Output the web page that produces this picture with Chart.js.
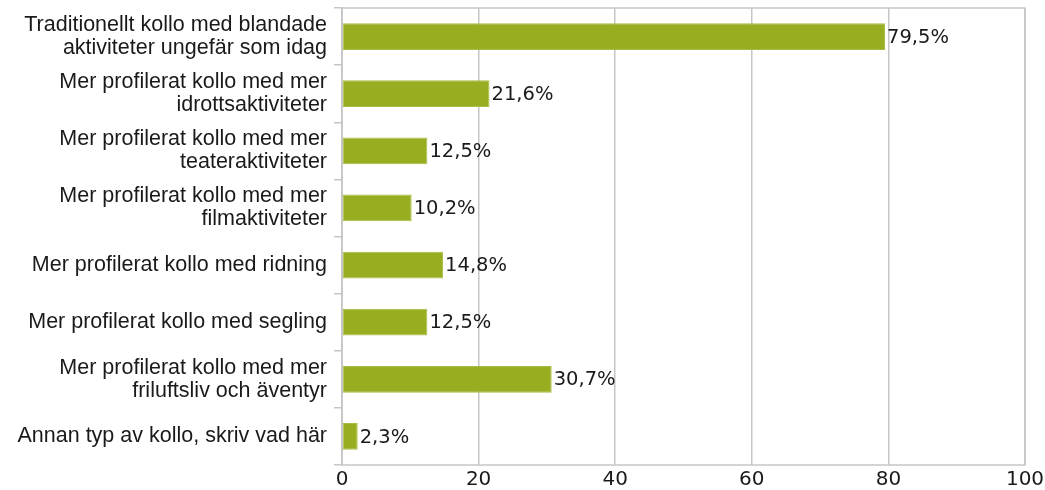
<!DOCTYPE html>
<html>
<head>
<meta charset="utf-8">
<script src="https://cdn.jsdelivr.net/npm/chart.js@4/dist/chart.umd.min.js"></script>
<style>
    html, body { margin: 0; padding: 0; background: #fff; }
</style>
</head>
<body>
<canvas id="kolloChart" width="1045" height="490"></canvas>
<script>
const categories = [
    ["Traditionellt kollo med blandade", "aktiviteter ungefär som idag"],
    ["Mer profilerat kollo med mer", "idrottsaktiviteter"],
    ["Mer profilerat kollo med mer", "teateraktiviteter"],
    ["Mer profilerat kollo med mer", "filmaktiviteter"],
    "Mer profilerat kollo med ridning",
    "Mer profilerat kollo med segling",
    ["Mer profilerat kollo med mer", "friluftsliv och äventyr"],
    "Annan typ av kollo, skriv vad här",
];
const percentValues = [79.5, 21.6, 12.5, 10.2, 14.8, 12.5, 30.7, 2.3];
const xTicks = [0, 20, 40, 60, 80, 100];

// value labels after each bar, e.g. "79,5%"
const barLabels = {
    id: "barLabels",
    afterDatasetsDraw(chart) {
        const ctx = chart.ctx;
        const meta = chart.getDatasetMeta(0);
        ctx.save();
        ctx.font = "19.5px 'DejaVu Sans'";
        ctx.fillStyle = "#1a1a1a";
        ctx.textAlign = "left";
        ctx.textBaseline = "middle";
        meta.data.forEach(function (bar, i) {
            const txt = percentValues[i].toFixed(1).replace(".", ",") + "%";
            ctx.fillText(txt, bar.x + 2, bar.y + 1);
        });
        ctx.restore();
    },
};

// grey frame round the plot area
const plotFrame = {
    id: "plotFrame",
    beforeDatasetsDraw(chart) {
        const a = chart.chartArea;
        const ctx = chart.ctx;
        ctx.save();
        ctx.strokeStyle = "#c6c6c6";
        ctx.lineWidth = 1.5;
        ctx.strokeRect(a.left, a.top, a.right - a.left, a.bottom - a.top);
        ctx.restore();
    },
};

const ctx = document.getElementById("kolloChart").getContext("2d");
new Chart(ctx, {
    type: "bar",
    data: {
        labels: categories,
        datasets: [
            {
                data: percentValues,
                backgroundColor: "#99ad20",
                borderColor: "#aabb44",
                borderWidth: 1,
                borderSkipped: false,
                categoryPercentage: 1,
                barPercentage: 0.47,
            },
        ],
    },
    options: {
        indexAxis: "y",
        responsive: false,
        animation: false,
        layout: { padding: { top: 8, right: 20, left: 0, bottom: 0 } },
        plugins: {
            legend: { display: false },
            tooltip: { enabled: false },
        },
        scales: {
            x: {
                min: 0,
                max: 100,
                afterBuildTicks(scale) {
                    scale.ticks = xTicks.map((v) => ({ value: v }));
                },
                afterFit(scale) {
                    scale.height = 25;
                    scale.paddingLeft = 0;
                    scale.paddingRight = 0;
                },
                grid: {
                    color: "#c6c6c6",
                    lineWidth: 1.5,
                    drawTicks: false,
                },
                border: { display: false },
                ticks: {
                    padding: 3,
                    color: "#1a1a1a",
                    font: { family: "'DejaVu Sans'", size: 20 },
                },
            },
            y: {
                afterFit(scale) {
                    scale.width = 342;
                    scale.paddingTop = 0;
                    scale.paddingBottom = 0;
                },
                grid: {
                    drawOnChartArea: false,
                    tickLength: 8,
                    color: "#c6c6c6",
                    lineWidth: 1.5,
                },
                border: { color: "#c6c6c6", width: 1.5 },
                ticks: {
                    padding: 7,
                    color: "#1a1a1a",
                    font: { family: "'Liberation Sans'", size: 21.5, lineHeight: 1.08 },
                },
            },
        },
    },
    plugins: [plotFrame, barLabels],
});
</script>
</body>
</html>
